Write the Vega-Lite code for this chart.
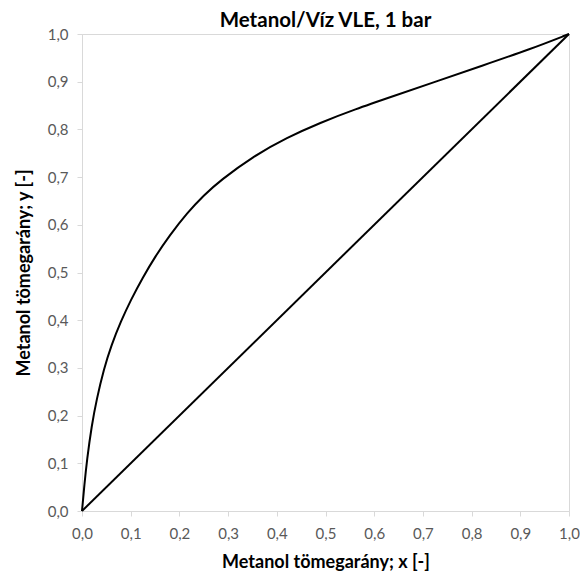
{
  "$schema": "https://vega.github.io/schema/vega-lite/v6.json",
  "width": 487,
  "height": 477,
  "autosize": {"type": "none"},
  "padding": {"left": 82, "top": 34, "right": 11, "bottom": 73},
  "background": "white",
  "title": {
    "text": "Metanol/Víz VLE, 1 bar",
    "font": "Lato",
    "fontSize": 20.5,
    "fontWeight": "bold",
    "color": "#000000",
    "anchor": "middle",
    "offset": -4
  },
  "config": {
    "view": {"stroke": "#d9d9d9", "strokeWidth": 1},
    "axis": {
      "domainColor": "#d9d9d9",
      "tickColor": "#d9d9d9",
      "tickSize": 5,
      "grid": false,
      "labelFlush": false,
      "labelFont": "Lato",
      "labelFontSize": 15,
      "labelColor": "#595959",
      "titleFont": "Lato",
      "titleFontSize": 18,
      "titleFontWeight": "bold",
      "titleColor": "#000000"
    }
  },
  "data": {
    "values": [
      {"s": "egyensuly", "x": 0.0, "y": 0.0},
      {"s": "egyensuly", "x": 0.005, "y": 0.056},
      {"s": "egyensuly", "x": 0.01, "y": 0.106},
      {"s": "egyensuly", "x": 0.02, "y": 0.18},
      {"s": "egyensuly", "x": 0.03, "y": 0.234},
      {"s": "egyensuly", "x": 0.045, "y": 0.298},
      {"s": "egyensuly", "x": 0.06, "y": 0.347},
      {"s": "egyensuly", "x": 0.08, "y": 0.398},
      {"s": "egyensuly", "x": 0.10, "y": 0.442},
      {"s": "egyensuly", "x": 0.125, "y": 0.49},
      {"s": "egyensuly", "x": 0.15, "y": 0.533},
      {"s": "egyensuly", "x": 0.18, "y": 0.578},
      {"s": "egyensuly", "x": 0.216, "y": 0.625},
      {"s": "egyensuly", "x": 0.25, "y": 0.662},
      {"s": "egyensuly", "x": 0.284, "y": 0.693},
      {"s": "egyensuly", "x": 0.352, "y": 0.744},
      {"s": "egyensuly", "x": 0.421, "y": 0.783},
      {"s": "egyensuly", "x": 0.489, "y": 0.814},
      {"s": "egyensuly", "x": 0.56, "y": 0.842},
      {"s": "egyensuly", "x": 0.64, "y": 0.87},
      {"s": "egyensuly", "x": 0.72, "y": 0.898},
      {"s": "egyensuly", "x": 0.82, "y": 0.933},
      {"s": "egyensuly", "x": 0.92, "y": 0.968},
      {"s": "egyensuly", "x": 1.0, "y": 1.0},
      {"s": "atlo", "x": 0.0, "y": 0.0},
      {"s": "atlo", "x": 1.0, "y": 1.0}
    ]
  },
  "mark": {"type": "line", "color": "#000000", "strokeWidth": 2, "interpolate": "basis"},
  "encoding": {
    "detail": {"field": "s", "type": "nominal"},
    "x": {
      "field": "x",
      "type": "quantitative",
      "scale": {"domain": [0, 1], "nice": false},
      "axis": {
        "values": [0, 0.1, 0.2, 0.3, 0.4, 0.5, 0.6, 0.7, 0.8, 0.9, 1.0],
        "labelExpr": "replace(format(datum.value, '.1f'), '.', ',')",
        "labelPadding": 10,
        "title": "Metanol tömegarány; x [-]",
        "titlePadding": 12
      }
    },
    "y": {
      "field": "y",
      "type": "quantitative",
      "scale": {"domain": [0, 1], "nice": false},
      "axis": {
        "values": [0, 0.1, 0.2, 0.3, 0.4, 0.5, 0.6, 0.7, 0.8, 0.9, 1.0],
        "labelExpr": "replace(format(datum.value, '.1f'), '.', ',')",
        "labelPadding": 9,
        "title": "Metanol tömegarány; y [-]",
        "titlePadding": 14
      }
    }
  }
}
